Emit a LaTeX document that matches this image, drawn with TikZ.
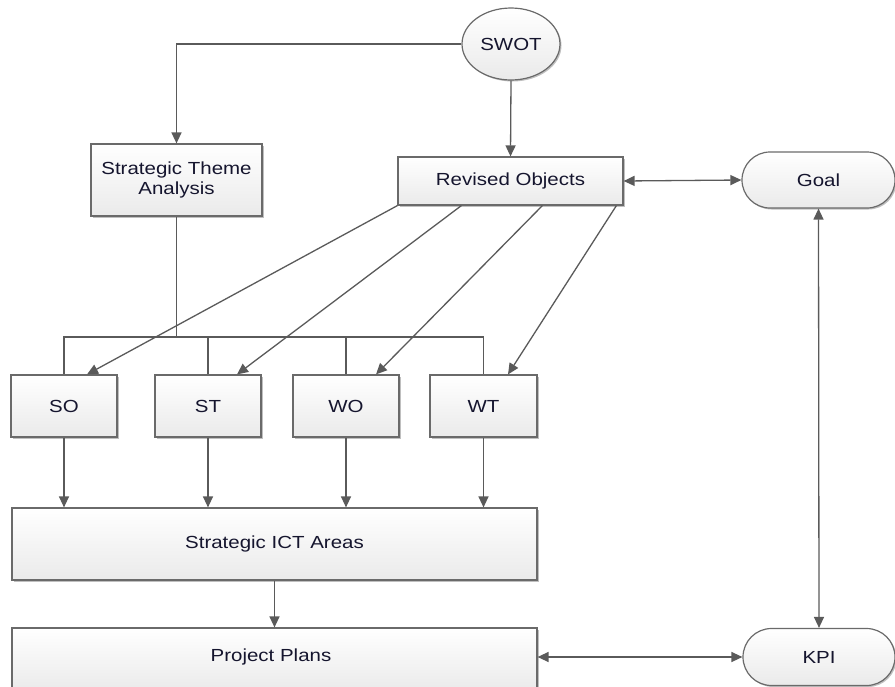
\documentclass[tikz,border=0pt]{standalone}
\usepackage{fontspec}
\setmainfont{Liberation Sans}[FakeStretch=1.17]
\usetikzlibrary{arrows.meta,shapes.geometric,shapes.misc,shadows,calc}
\definecolor{bordc}{HTML}{6A6A6A}
\definecolor{linec}{HTML}{5A5A5A}
\definecolor{txtc}{HTML}{15152E}
\definecolor{botc}{HTML}{EAEAEA}
\tikzset{
  shp/.style={draw=bordc, line width=1.2pt, top color=white, bottom color=botc,
    text=txtc, inner sep=0pt, align=center,
    font=\fontsize{17.5}{20}\selectfont,
    drop shadow={shadow xshift=1.5pt, shadow yshift=-1.5pt, opacity=0.25, fill=black}},
  boxn/.style={shp, rectangle},
  elln/.style={shp, ellipse},
  termn/.style={shp, rounded rectangle},
  con/.style={draw=linec, line width=1.3pt},
  arr/.style={con, -{Triangle[length=11pt,width=10pt]}},
  arrb/.style={con, {Triangle[length=11pt,width=10pt]}-{Triangle[length=11pt,width=10pt]}}
}
\begin{document}
\begin{tikzpicture}[x=1pt,y=-1pt]
\useasboundingbox (0,0) rectangle (895,686);
\clip (0,0) rectangle (895,686);
\node[elln, minimum width=98pt, minimum height=72pt] (swot) at (511,44) {SWOT};
\node[boxn, minimum width=225pt, minimum height=48pt] (rev) at (510.5,181) {Revised Objects};
\node[termn, minimum width=153pt, minimum height=56pt] (goal) at (818.5,180) {Goal};
\node[boxn, minimum width=171pt, minimum height=72pt] (sta) at (176.5,180) {Strategic Theme\\Analysis};
\node[boxn, minimum width=106pt, minimum height=62pt] (so) at (64,406) {SO};
\node[boxn, minimum width=106pt, minimum height=62pt] (st) at (208,406) {ST};
\node[boxn, minimum width=106pt, minimum height=62pt] (wo) at (346,406) {WO};
\node[boxn, minimum width=107pt, minimum height=62pt] (wt) at (483.5,406) {WT};
\node[boxn, minimum width=525pt, minimum height=72pt] (ict) at (274.5,544) {Strategic ICT Areas};
\node[boxn, minimum width=525pt, minimum height=64pt] (pp) at (274.5,660) {};
\node[text=txtc, font=\fontsize{17.5}{20}\selectfont, inner sep=0pt] (pplabel) at (271,657) {Project Plans};
\node[termn, minimum width=152pt, minimum height=57pt] (kpi) at (819,657) {KPI};
\coordinate (bus) at (0,337);
% SWOT connectors
\draw[arr] (swot.west) -| (sta.north);
\draw[arr] (swot.south) -- (rev.north);
\draw[arrb] (rev.east) -- (goal.west);
\draw[arrb] (goal.south) -- (kpi.north);
\draw[arrb] (pp.east |- kpi.west) -- (kpi.west);
% bus
\draw[con] (sta.south) -- (sta.south |- bus);
\draw[con] (so.north) -- (so.north |- bus) -- (wt.north |- bus) -- (wt.north);
\draw[con] (st.north) -- (st.north |- bus);
\draw[con] (wo.north) -- (wo.north |- bus);
% diagonals
\draw[arr] ([xshift=0pt]rev.south west) -- ([xshift=23pt]so.north);
\draw[arr] ([xshift=64pt]rev.south west) -- ([xshift=29pt]st.north);
\draw[arr] ([xshift=145pt]rev.south west) -- ([xshift=30pt]wo.north);
\draw[arr] ([xshift=219pt]rev.south west) -- ([xshift=24.5pt]wt.north);
% down arrows
\draw[arr] (so.south) -- (so.south |- ict.north);
\draw[arr] (st.south) -- (st.south |- ict.north);
\draw[arr] (wo.south) -- (wo.south |- ict.north);
\draw[arr] (wt.south) -- (wt.south |- ict.north);
\draw[arr] (ict.south) -- (ict.south |- pp.north);
\end{tikzpicture}
\end{document}
